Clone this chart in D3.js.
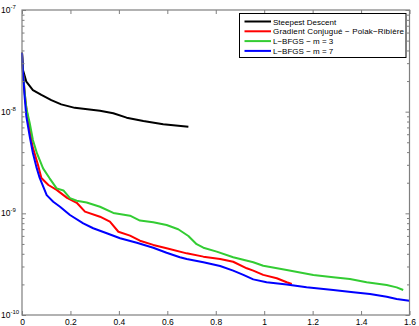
<!doctype html>
<html>
<head>
	<meta charset="utf-8">
	<script src="https://d3js.org/d3.v7.min.js"></script>
	<style>
		body { margin: 0; background: #fff; }
		text { font-family: "Liberation Sans", Arial, sans-serif; }
	</style>
</head>
<body>
	<svg id="chart" width="419" height="326"></svg>
	<script>
		var seriesNames = ["Steepest Descent", "Gradient Conjugué \u2212 Polak\u2212Ribière", "L\u2212BFGS \u2212 m = 3", "L\u2212BFGS \u2212 m = 7"];
		var seriesColors = ["#000000", "#ff0000", "#33cc33", "#0000ff"];

		var xTicks = [0, 0.2, 0.4, 0.6, 0.8, 1, 1.2, 1.4, 1.6];
		var yTicks = [1e-10, 1e-9, 1e-8, 1e-7];
		var yTickExp = ["-10", "-9", "-8", "-7"];

		var steepest = [
			[0, 3.80e-8], [0.004, 2.57e-8], [0.018, 1.97e-8], [0.045, 1.63e-8], [0.080, 1.46e-8],
			[0.121, 1.30e-8], [0.162, 1.18e-8], [0.218, 1.09e-8], [0.322, 1.02e-8], [0.377, 9.64e-9],
			[0.432, 8.73e-9], [0.501, 8.09e-9], [0.583, 7.51e-9], [0.687, 7.11e-9]
		];
		var gradConj = [
			[0, 3.80e-8], [0.004, 2.40e-8], [0.014, 1.30e-8], [0.019, 1.04e-8], [0.043, 4.59e-9],
			[0.068, 2.88e-9], [0.080, 2.23e-9], [0.109, 1.90e-9], [0.143, 1.70e-9], [0.186, 1.42e-9],
			[0.226, 1.27e-9], [0.260, 1.04e-9], [0.322, 9.27e-10], [0.363, 8.28e-10], [0.398, 6.59e-10],
			[0.446, 6.03e-10], [0.487, 5.38e-10], [0.542, 4.89e-10], [0.597, 4.53e-10], [0.680, 4.04e-10],
			[0.749, 3.75e-10], [0.818, 3.56e-10], [0.872, 3.34e-10], [0.928, 2.88e-10], [0.955, 2.73e-10],
			[0.996, 2.48e-10], [1.052, 2.30e-10], [1.093, 2.10e-10], [1.114, 2.02e-10]
		];
		var lbfgs3 = [
			[0, 3.80e-8], [0.004, 2.40e-8], [0.012, 1.46e-8], [0.018, 1.08e-8], [0.032, 7.69e-9],
			[0.045, 5.26e-9], [0.062, 3.88e-9], [0.087, 2.77e-9], [0.114, 2.21e-9], [0.143, 1.76e-9],
			[0.171, 1.68e-9], [0.198, 1.41e-9], [0.226, 1.33e-9], [0.267, 1.28e-9], [0.322, 1.16e-9],
			[0.377, 1.01e-9], [0.446, 9.48e-10], [0.487, 8.49e-10], [0.542, 8.16e-10], [0.597, 7.67e-10],
			[0.645, 6.97e-10], [0.687, 5.98e-10], [0.721, 4.97e-10], [0.749, 4.59e-10], [0.804, 4.20e-10],
			[0.872, 3.70e-10], [0.955, 3.30e-10], [0.996, 3.05e-10], [1.093, 2.77e-10], [1.203, 2.48e-10],
			[1.285, 2.35e-10], [1.354, 2.26e-10], [1.423, 2.10e-10], [1.506, 1.97e-10], [1.547, 1.87e-10],
			[1.574, 1.76e-10]
		];
		var lbfgs7 = [
			[0, 3.80e-8], [0.004, 2.40e-8], [0.011, 1.40e-8], [0.018, 8.93e-9], [0.032, 5.68e-9],
			[0.045, 3.92e-9], [0.059, 2.88e-9], [0.073, 2.23e-9], [0.102, 1.51e-9], [0.129, 1.30e-9],
			[0.157, 1.16e-9], [0.198, 9.63e-10], [0.253, 7.98e-10], [0.294, 7.13e-10], [0.350, 6.37e-10],
			[0.405, 5.68e-10], [0.474, 5.14e-10], [0.542, 4.59e-10], [0.597, 4.10e-10], [0.652, 3.70e-10],
			[0.680, 3.56e-10], [0.749, 3.30e-10], [0.818, 3.03e-10], [0.872, 2.73e-10], [0.914, 2.48e-10],
			[0.955, 2.24e-10], [1.010, 2.10e-10], [1.093, 2.00e-10], [1.175, 1.87e-10], [1.285, 1.76e-10],
			[1.368, 1.67e-10], [1.437, 1.61e-10], [1.506, 1.51e-10], [1.547, 1.44e-10], [1.599, 1.38e-10]
		];

		drawChart()
		function drawChart() {
			var margin = {top: 10, right: 10, bottom: 11, left: 22};
			var width = 419, height = 326;
			var axisColor = "#7f7f7f";

			var svg = d3.select("#chart");

			var xScale = d3.scaleLinear()
				.domain([0, 1.6])
				.range([margin.left, width - margin.right + 0.5]);

			var yScale = d3.scaleLog()
				.domain([1e-10, 1e-7])
				.range([height - margin.bottom, margin.top]);

			// minor ticks for the log axis
			var minorTicks = [];
			yTicks.slice(0, -1).forEach(function(t) {
				for (var k = 2; k <= 9; k++) minorTicks.push(t * k);
			});

			var line = d3.line()
				.x(d => xScale(d[0]))
				.y(d => yScale(d[1]));

			var allSeries = [steepest, gradConj, lbfgs3, lbfgs7];

			svg.selectAll("path.series")
				.data(allSeries)
				.enter()
				.append("path")
					.attr("class", "series")
					.attr("d", line)
					.attr("fill", "none")
					.attr("stroke", (d, i) => seriesColors[i])
					.attr("stroke-width", 2)
					.attr("stroke-linejoin", "round");

			// Axes (ticks point inward)
			var x0 = xScale.range()[0], x1 = xScale.range()[1];
			var y0 = yScale.range()[0], y1 = yScale.range()[1];

			var xAxis = d3.axisBottom(xScale).tickValues(xTicks).tickSize(-4).tickPadding(4)
				.tickFormat(d3.format("~g"));
			var xAxisTop = d3.axisTop(xScale).tickValues(xTicks).tickSize(-4).tickFormat("");
			var yAxis = d3.axisLeft(yScale).tickValues(yTicks).tickSize(-4).tickFormat("");
			var yAxisRight = d3.axisRight(yScale).tickValues(yTicks).tickSize(-4).tickFormat("");
			var yMinor = d3.axisLeft(yScale).tickValues(minorTicks).tickSize(-2.5).tickFormat("");
			var yMinorRight = d3.axisRight(yScale).tickValues(minorTicks).tickSize(-2.5).tickFormat("");

			var gx = svg.append("g").attr("transform", "translate(0," + y0 + ")").call(xAxis);
			svg.append("g").attr("transform", "translate(0," + y1 + ")").call(xAxisTop);
			svg.append("g").attr("transform", "translate(" + x0 + ",0)").call(yAxis);
			svg.append("g").attr("transform", "translate(" + x1 + ",0)").call(yAxisRight);
			svg.append("g").attr("transform", "translate(" + x0 + ",0)").call(yMinor);
			svg.append("g").attr("transform", "translate(" + x1 + ",0)").call(yMinorRight);

			svg.selectAll(".domain").remove();
			svg.selectAll(".tick line").attr("stroke", axisColor);

			gx.selectAll("text")
				.attr("font-size", "8.5px")
				.attr("fill", "#000");

			// y labels as 10 with exponent
			yTicks.forEach(function(t, i) {
				var lbl = svg.append("text")
					.attr("x", 1)
					.attr("y", yScale(t) + 3)
					.attr("font-size", "8.5px")
					.attr("fill", "#000");
				lbl.append("tspan").text("10");
				lbl.append("tspan").attr("dy", -4).attr("font-size", "6px").text(yTickExp[i]);
			});

			// box
			svg.append("rect")
				.attr("x", x0)
				.attr("y", y1)
				.attr("width", x1 - x0)
				.attr("height", y0 - y1)
				.attr("fill", "none")
				.attr("stroke", axisColor)
				.attr("stroke-width", 1.2);

			// Legend
			var leg = svg.append("g").attr("transform", "translate(239.5,13.5)");
			leg.append("rect")
				.attr("width", 166.5)
				.attr("height", 44)
				.attr("fill", "#fff")
				.attr("stroke", "#000")
				.attr("stroke-width", 1);

			var entries = leg.selectAll("g.entry")
				.data(seriesNames)
				.enter()
				.append("g")
					.attr("class", "entry")
					.attr("transform", (d, i) => "translate(0," + (8 + i * 9.8) + ")");

			entries.append("line")
				.attr("x1", 5).attr("x2", 31.5)
				.attr("stroke", (d, i) => seriesColors[i])
				.attr("stroke-width", 2);

			entries.append("text")
				.attr("x", 33.5)
				.attr("y", 3)
				.attr("font-size", "8px")
				.attr("fill", "#000")
				.attr("textLength", d => d.length > 30 ? 131 : null)
				.text(d => d);
		}
	</script>
</body>
</html>
